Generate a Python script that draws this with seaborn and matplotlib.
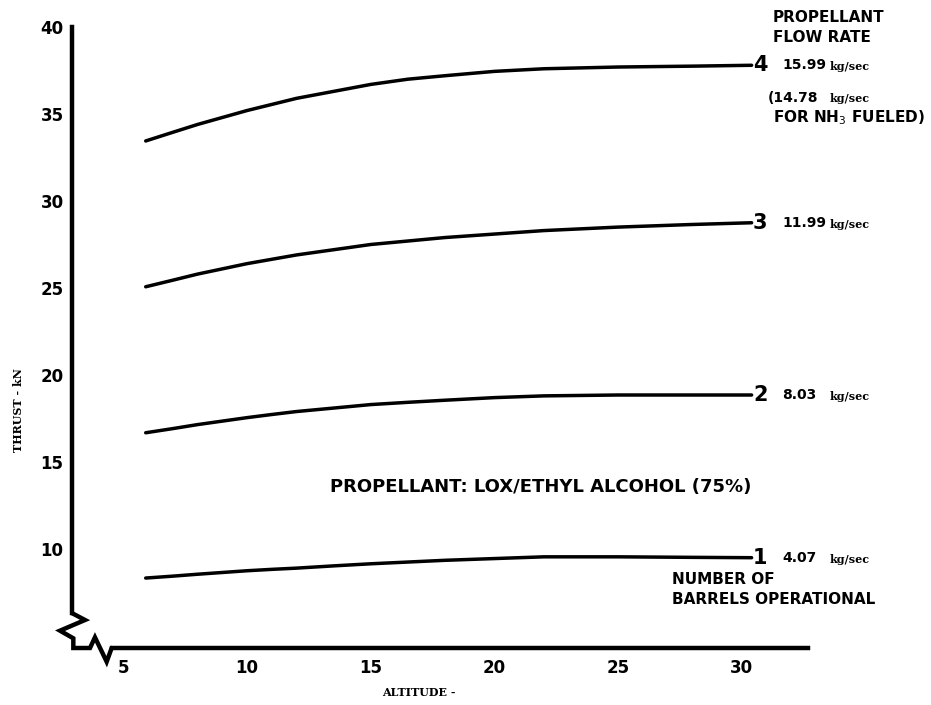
import matplotlib
matplotlib.use("Agg")
import matplotlib.pyplot as plt
import seaborn as sns
import pandas as pd

# ---------------- data ----------------
altitude = [5.9, 7, 8, 9, 10, 11, 12, 13.5, 15, 16.5, 18, 20, 22, 25, 28, 30.4]
thrust_4 = [33.45, 33.95, 34.4, 34.8, 35.2, 35.55, 35.9, 36.3, 36.7, 37.0, 37.2, 37.45, 37.6, 37.7, 37.75, 37.8]
thrust_3 = [25.07, 25.45, 25.8, 26.1, 26.4, 26.65, 26.9, 27.2, 27.5, 27.7, 27.9, 28.1, 28.3, 28.5, 28.65, 28.75]
thrust_2 = [16.68, 16.92, 17.15, 17.35, 17.55, 17.73, 17.9, 18.1, 18.3, 18.43, 18.55, 18.7, 18.8, 18.85, 18.85, 18.85]
thrust_1 = [8.33, 8.44, 8.55, 8.65, 8.75, 8.83, 8.9, 9.03, 9.15, 9.25, 9.35, 9.45, 9.55, 9.55, 9.52, 9.5]
barrels = ["4", "3", "2", "1"]
flow_rates = ["15.99", "11.99", "8.03", "4.07"]
y_ticks = [10, 15, 20, 25, 30, 35, 40]
x_ticks = [5, 10, 15, 20, 25, 30]

series = {"4": thrust_4, "3": thrust_3, "2": thrust_2, "1": thrust_1}
df = pd.DataFrame(
    [(a, t, b) for b in barrels for a, t in zip(altitude, series[b])],
    columns=["altitude", "thrust", "barrels"],
)

# ---------------- style ----------------
sns.set_style("white")
plt.rcParams["font.family"] = ["DejaVu Sans"]
plt.rcParams["text.color"] = "black"
plt.rcParams["xtick.color"] = "black"
plt.rcParams["ytick.color"] = "black"
plt.rcParams["axes.labelcolor"] = "black"

W, H = 931, 705
fig = plt.figure(figsize=(W / 100, H / 100), dpi=100)
ax = fig.add_axes([72 / W, 1 - 648 / H, 736 / W, 621 / H])

sns.lineplot(data=df, x="altitude", y="thrust", hue="barrels",
             palette=["black"] * 4, legend=False, lw=2.5, ax=ax,
             sort=False, estimator=None)
for ln in ax.lines:
    ln.set_solid_capstyle("round")
    ln.set_solid_joinstyle("round")

ax.set_xlim(2.92, 32.68)
ax.set_ylim(4.31, 40)
ax.set_xticks(x_ticks)
ax.set_yticks(y_ticks)
ax.set_xticklabels([str(v) for v in x_ticks], fontsize=12, fontweight="bold",
                   color="black")
ax.set_yticklabels([str(v) for v in y_ticks], fontsize=12, fontweight="bold",
                   color="black")
ax.set_xlabel("")
ax.set_ylabel("")
for s in ["top", "right"]:
    ax.spines[s].set_visible(False)
for s in ["left", "bottom"]:
    ax.spines[s].set_linewidth(3.2)
    ax.spines[s].set_color("black")
ax.spines["left"].set_bounds(6.32, 40)
ax.spines["bottom"].set_bounds(4.53, 32.68)
ax.tick_params(axis="both", direction="in", length=7, width=2.2, color="black")
ax.tick_params(axis="y", pad=6)
ax.tick_params(axis="x", pad=8)

# axis break zigzag (axes fraction)
zx = [0.0004, 0.0177, -0.0163, 0.0018, 0.0018, 0.0245, 0.0312, 0.0471, 0.0539]
zy = [0.0559, 0.0451, 0.0279, 0.0156, 0.0, 0.0, 0.0172, -0.0221, 0.0]
ax.plot(zx, zy, color="black", lw=3.2, transform=ax.transAxes, clip_on=False,
        solid_joinstyle="miter")

# ---------------- labels ----------------
ax.text(-0.073, 0.383, "THRUST - kN", rotation=90, transform=ax.transAxes,
        ha="center", va="center", fontsize=8, fontweight="bold",
        family="DejaVu Serif", color="black")
fig.text(419 / W, 1 - 693 / H, "ALTITUDE -", ha="center", va="center",
         fontsize=8, fontweight="bold", family="DejaVu Serif", color="black")

ends = {"4": thrust_4[-1], "3": thrust_3[-1], "2": thrust_2[-1], "1": thrust_1[-1]}
for b, fr in zip(barrels, flow_rates):
    y_end = ends[b]
    ax.annotate(b, xy=(altitude[-1], y_end), xytext=(1, 0),
                textcoords="offset points", va="center", ha="left",
                fontsize=15, fontweight="bold", annotation_clip=False,
                color="black")
    ax.annotate(fr, xy=(altitude[-1], y_end), xytext=(22, 0),
                textcoords="offset points", va="center", ha="left",
                fontsize=10, fontweight="bold", annotation_clip=False,
                color="black")
    ax.annotate("kg/sec", xy=(altitude[-1], y_end), xytext=(56, -1),
                textcoords="offset points", va="center", ha="left",
                fontsize=8, fontweight="bold", family="DejaVu Serif",
                annotation_clip=False, color="black")

fig.text(773 / W, 1 - 18 / H, "PROPELLANT", ha="left", va="center",
         fontsize=11, fontweight="bold")
fig.text(773 / W, 1 - 38 / H, "FLOW RATE", ha="left", va="center",
         fontsize=11, fontweight="bold")
fig.text(768 / W, 1 - 98 / H, "(14.78", ha="left", va="center",
         fontsize=10, fontweight="bold")
fig.text(830 / W, 1 - 99 / H, "kg/sec", ha="left", va="center",
         fontsize=8, fontweight="bold", family="DejaVu Serif")
fig.text(773 / W, 1 - 118 / H, "FOR NH$_3$ FUELED)", ha="left", va="center",
         fontsize=11, fontweight="bold")

fig.text(672 / W, 1 - 580 / H, "NUMBER OF", ha="left", va="center",
         fontsize=11, fontweight="bold")
fig.text(672 / W, 1 - 600 / H, "BARRELS OPERATIONAL", ha="left", va="center",
         fontsize=11, fontweight="bold")

fig.text(330 / W, 1 - 487 / H, "PROPELLANT: LOX/ETHYL ALCOHOL (75%)",
         ha="left", va="center", fontsize=13, fontweight="bold")

fig.savefig("out.png", dpi=100)
